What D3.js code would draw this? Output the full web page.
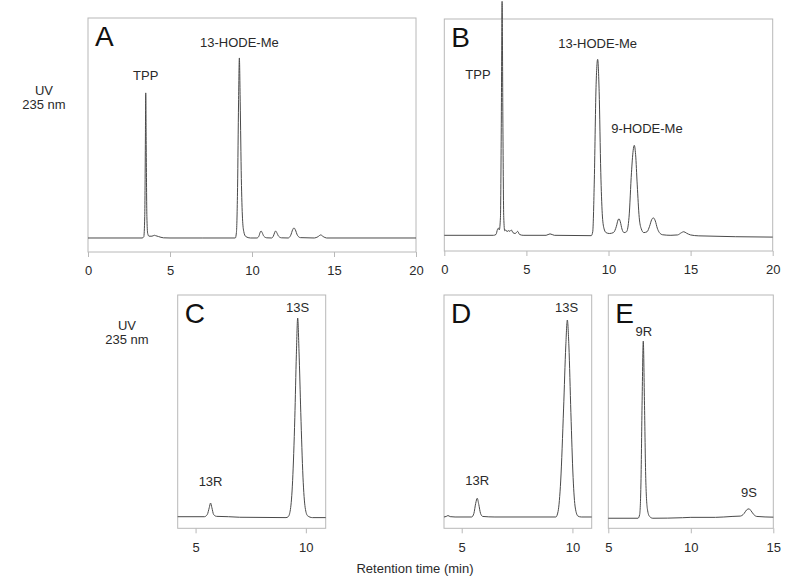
<!DOCTYPE html>
<html><head><meta charset="utf-8">
<script src="https://cdn.jsdelivr.net/npm/d3@7"></script>
<style>
html,body{margin:0;padding:0;background:#fff;}
svg{display:block;font-family:"Liberation Sans",Arial,Helvetica,sans-serif;}
</style></head>
<body><svg id="chart" width="800" height="586"></svg>
<script>
// ---- Data (retention time in min, UV 235 nm signal in arbitrary units) ----
const traceA = [[0,0],[3.3,0],[3.4,0.6],[3.46,12],[3.5,55],[3.52,80.6],[3.55,50],[3.59,12],[3.64,2.5],[3.72,1],[3.9,1],[4.05,1.5],[4.12,1.3],[4.3,0.8],[4.6,0.1],[5,0],[7,0],[8.98,0],[9.05,3],[9.12,28],[9.18,75],[9.23,100],[9.28,76],[9.35,33],[9.42,11],[9.5,3.5],[9.62,0.8],[9.9,0],[10.3,0],[10.42,1],[10.5,3.2],[10.55,3.9],[10.62,3],[10.72,1],[10.9,0.1],[11.2,0],[11.3,1],[11.39,3.2],[11.44,3.9],[11.51,3],[11.62,1],[11.8,0.1],[12.2,0],[12.36,1.5],[12.48,4.6],[12.56,5.6],[12.64,4.6],[12.77,1.5],[12.95,0.2],[13.8,0],[14.02,0.7],[14.19,1.7],[14.34,0.8],[14.55,0],[20,0]];
const traceB = [[0,0],[3.0,0],[3.15,0.5],[3.24,3.3],[3.29,4],[3.35,3],[3.42,10],[3.47,60],[3.52,130],[3.57,60],[3.62,10],[3.68,2.5],[3.75,3],[3.82,2],[3.9,2.6],[4.0,2.2],[4.08,3],[4.18,1.5],[4.32,1],[4.47,2.2],[4.58,0.5],[4.8,0],[6.2,0],[6.44,0.8],[6.7,0],[8.95,-0.2],[9.04,2],[9.13,28],[9.24,82],[9.34,97.8],[9.43,80],[9.53,35],[9.62,12],[9.72,4],[9.85,1.5],[10.05,1],[10.3,1.5],[10.48,5],[10.58,8.5],[10.64,9.2],[10.72,7.5],[10.82,3.5],[10.95,1.5],[11.1,2],[11.25,10],[11.4,35],[11.5,47],[11.57,50],[11.65,45],[11.75,28],[11.87,10],[12.0,3.5],[12.15,1.5],[12.35,2],[12.5,5],[12.63,8.7],[12.73,9.7],[12.85,8],[12.97,4],[13.1,1.5],[13.3,0.3],[13.8,0],[14.2,0.2],[14.45,1.5],[14.58,2],[14.75,1.2],[15.0,0.2],[15.5,-0.3],[20,-1]];
const traceC = [[4.19,0],[5.4,0],[5.53,1.2],[5.62,5],[5.68,7.6],[5.74,5],[5.82,1.2],[5.95,0.2],[6.5,0],[7.0,-0.3],[9.1,-0.5],[9.2,0],[9.3,4],[9.4,20],[9.5,55],[9.57,90],[9.63,110.4],[9.69,92],[9.77,58],[9.87,22],[9.97,5],[10.08,0.5],[10.3,-0.5],[10.9,-0.5]];
const traceD = [[4.2,0],[4.3,0.3],[4.38,0.8],[4.48,0.2],[4.7,0],[5.45,0],[5.55,2],[5.63,7.5],[5.7,10.4],[5.77,7],[5.85,2],[5.95,0.3],[6.5,0],[9.25,0],[9.35,3],[9.47,20],[9.6,60],[9.7,95],[9.77,109.4],[9.84,95],[9.93,58],[10.03,22],[10.13,5],[10.25,0.5],[10.4,0],[10.87,0]];
const traceE = [[5,0],[6.8,0],[6.9,2],[6.98,20],[7.05,65],[7.12,98],[7.19,65],[7.27,22],[7.37,5],[7.5,1],[7.7,0],[9.5,0.3],[10,0.5],[11.5,0.5],[12.5,1],[13.0,1.2],[13.22,2.5],[13.38,4.6],[13.53,5.2],[13.66,4],[13.82,2],[14.0,1],[15,0.6]];

const ticksAB = [0,5,10,15,20];
const ticksCD = [5,10];
const ticksE = [5,10,15];

const peakLabelsA = [{t:3.52,s:88,text:"TPP"},{t:9.23,s:106,text:"13-HODE-Me"}];
const peakLabelsB = [{t:2.05,s:87,text:"TPP"},{t:9.34,s:104,text:"13-HODE-Me"},{t:12.34,s:57,text:"9-HODE-Me"}];
const peakLabelsC = [{t:9.63,s:114,text:"13S"},{t:5.68,s:17,text:"13R"}];
const peakLabelsD = [{t:9.74,s:114,text:"13S"},{t:5.7,s:18,text:"13R"}];
const peakLabelsE = [{t:7.15,s:101,text:"9R"},{t:13.53,s:12,text:"9S"}];

// ---- Layout ----
const panels = [
  {letter:"A", data:traceA, labels:peakLabelsA, ticks:ticksAB, xd:[0,20], left:88, right:416, top:18, bottom:252, yd:[-7.78,122.2]},
  {letter:"B", data:traceB, labels:peakLabelsB, ticks:ticksAB, xd:[0,20], left:444.3, right:772.7, top:19, bottom:251, yd:[-8.72,120.2]},
  {letter:"C", data:traceC, labels:peakLabelsC, ticks:ticksCD, xd:[4.19,10.9], left:177.7, right:325.7, top:295, bottom:528.3, yd:[-6.44,123.2]},
  {letter:"D", data:traceD, labels:peakLabelsD, ticks:ticksCD, xd:[4.2,10.87], left:444, right:591.7, top:295, bottom:528.3, yd:[-6.28,123.3]},
  {letter:"E", data:traceE, labels:peakLabelsE, ticks:ticksE, xd:[5,15], left:608.3, right:773.3, top:295, bottom:528.3, yd:[-5.56,123.5]}
];

const svg = d3.select("#chart");
const frameCol = "#b8b8b8", traceCol = "#4a4a4a", textCol = "#2a2a2a";

panels.forEach(p => {
  const x = d3.scaleLinear().domain(p.xd).range([p.left, p.right]);
  const y = d3.scaleLinear().domain(p.yd).range([p.bottom, p.top]);
  const g = svg.append("g");
  g.append("rect").attr("x", p.left).attr("y", p.top)
    .attr("width", p.right - p.left).attr("height", p.bottom - p.top)
    .attr("fill", "none").attr("stroke", frameCol).attr("stroke-width", 1);
  const ax = g.append("g").attr("transform", `translate(0,${p.bottom})`)
    .call(d3.axisBottom(x).tickValues(p.ticks).tickSize(5).tickPadding(9).tickFormat(d3.format("d")));
  ax.select(".domain").remove();
  ax.selectAll("line").attr("stroke", frameCol);
  ax.selectAll("text").attr("fill", textCol).attr("font-size", 13)
    .attr("font-family", "Liberation Sans, Arial, sans-serif");
  const line = d3.line().x(d => x(d[0])).y(d => y(d[1])).curve(d3.curveMonotoneX);
  g.append("path").datum(p.data).attr("d", line)
    .attr("fill", "none").attr("stroke", traceCol).attr("stroke-width", 1);
  g.append("text").attr("x", p.left + 7).attr("y", p.top + 28)
    .attr("font-size", 28).attr("fill", "#111").text(p.letter);
  g.selectAll("text.pk").data(p.labels).enter().append("text").attr("class","pk")
    .attr("x", d => x(d.t)).attr("y", d => y(d.s))
    .attr("text-anchor", "middle").attr("font-size", 13).attr("fill", textCol)
    .text(d => d.text);
});

// y-axis labels
[[44, 95], [127, 330]].forEach(([cx, by]) => {
  svg.append("text").attr("x", cx).attr("y", by).attr("text-anchor","middle")
    .attr("font-size", 13).attr("fill", textCol).text("UV");
  svg.append("text").attr("x", cx).attr("y", by + 14).attr("text-anchor","middle")
    .attr("font-size", 13).attr("fill", textCol).text("235 nm");
});

svg.append("text").attr("x", 415).attr("y", 573).attr("text-anchor","middle")
  .attr("font-size", 13).attr("fill", textCol).text("Retention time (min)");
</script></body></html>
